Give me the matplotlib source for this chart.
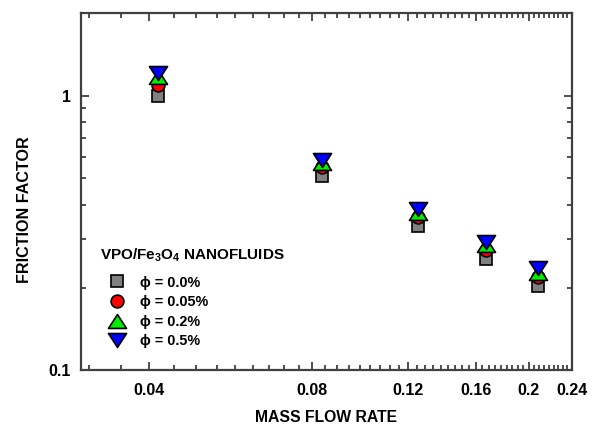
"""Friction factor vs mass flow rate for VPO/Fe3O4 nanofluids."""
import numpy as np
import matplotlib; matplotlib.use('Agg')
import matplotlib.pyplot as plt
from matplotlib.path import Path
from matplotlib.ticker import FixedLocator, NullFormatter, LogLocator, FixedFormatter

plt.rcParams['font.family'] = ['Liberation Sans', 'DejaVu Sans']
plt.rcParams['font.weight'] = 'bold'
plt.rcParams['mathtext.fontset'] = 'custom'
plt.rcParams['mathtext.rm'] = 'Liberation Sans:bold'
plt.rcParams['mathtext.default'] = 'rm'

mass_flow = [0.0417, 0.0833, 0.125, 0.1667, 0.2083]
f_00 = [1.00, 0.51, 0.335, 0.255, 0.203]
f_005 = [1.09, 0.55, 0.362, 0.275, 0.218]
f_02 = [1.17, 0.57, 0.375, 0.286, 0.226]
f_05 = [1.21, 0.585, 0.385, 0.294, 0.236]
labels = ['ϕ = 0.0%', 'ϕ = 0.05%', 'ϕ = 0.2%', 'ϕ = 0.5%']
colors = ['#808080', '#ff0000', '#00ee00', '#0000ff']
x_major = [0.04, 0.08, 0.12, 0.16, 0.2, 0.24]
x_major_labels = ['0.04', '0.08', '0.12', '0.16', '0.2', '0.24']

# wide triangles like the original plotting program
tri_up = Path([(-1.3, -1), (1.3, -1), (0, 1), (-1.3, -1)], closed=True)
tri_dn = Path([(-1.3, 1), (1.3, 1), (0, -1), (-1.3, 1)], closed=True)
markers = ['s', 'o', tri_up, tri_dn]
sizes = [9.2, 9.2, 13, 13]

AX_COL = '#404040'
fig = plt.figure(figsize=(5.98, 4.24), dpi=100)
ax = fig.add_axes([0.135, 0.127, 0.821, 0.842])

for ys, lab, c, m, s in zip([f_00, f_005, f_02, f_05], labels, colors, markers, sizes):
    ax.plot(mass_flow, ys, ls='none', marker=m, ms=s,
            mfc=c, mec='black', mew=1.2, label=lab, zorder=3)

ax.set_xscale('log')
ax.set_yscale('log')
ax.set_xlim(0.03, 0.24)
ax.set_ylim(0.1, 2.0)

ax.xaxis.set_major_locator(FixedLocator(x_major))
ax.xaxis.set_major_formatter(FixedFormatter(x_major_labels))
step = 0.04 / 9
minors = [v for v in np.arange(0.0, 0.2401, step) if v >= 0.0299 and
          min(abs(v - mj) for mj in x_major) > 1e-6]
ax.xaxis.set_minor_locator(FixedLocator(minors))
ax.xaxis.set_minor_formatter(NullFormatter())
ax.yaxis.set_major_locator(FixedLocator([0.1, 1.0]))
ax.yaxis.set_major_formatter(FixedFormatter(['0.1', '1']))
ax.yaxis.set_minor_locator(LogLocator(base=10, subs=np.arange(2, 10)))
ax.yaxis.set_minor_formatter(NullFormatter())

ax.tick_params(which='both', direction='in', top=True, right=True,
               color=AX_COL, width=1.3, labelsize=11.5, pad=7)
ax.tick_params(axis='x', which='major', pad=9)
ax.tick_params(which='major', length=6)
ax.tick_params(which='minor', length=3.5)
for sp in ax.spines.values():
    sp.set_color(AX_COL)
    sp.set_linewidth(1.6)

ax.set_xlabel('MASS FLOW RATE', fontsize=11.3, fontweight='bold', labelpad=9)
ax.set_ylabel('FRICTION FACTOR', fontsize=11.6, fontweight='bold')
ax.yaxis.set_label_coords(-0.1, 0.451)

ax.text(0.039, 0.323, r'VPO/Fe$_3$O$_4$ NANOFLUIDS', transform=ax.transAxes,
        fontsize=11, fontweight='bold', ha='left', va='center')
ax.legend(loc='upper left', bbox_to_anchor=(0.039, 0.265), frameon=False,
          fontsize=10.4, borderpad=0, borderaxespad=0, handlelength=2.36,
          handletextpad=0.42, labelspacing=0.39)

fig.savefig('out.png', dpi=100)
